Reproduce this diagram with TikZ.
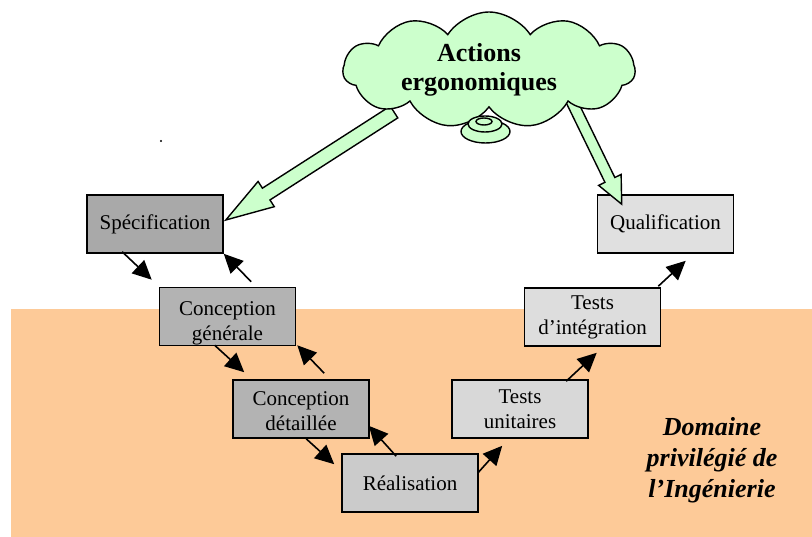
\documentclass[tikz,border=0pt]{standalone}
\usepackage{fontspec}
\setmainfont{Liberation Serif}
\usetikzlibrary{arrows.meta,shapes.symbols,calc}
\definecolor{orangezone}{HTML}{FDCA98}
\definecolor{cloudgreen}{HTML}{CCFFCC}
\definecolor{gspec}{HTML}{A9A9A9}
\definecolor{gcg}{HTML}{B3B3B3}
\definecolor{gcd}{HTML}{B3B3B3}
\definecolor{greal}{HTML}{CBCBCB}
\definecolor{gtu}{HTML}{D8D8D8}
\definecolor{gti}{HTML}{DDDDDD}
\definecolor{gqual}{HTML}{E0E0E0}
\newcommand\blockarrow[5]{%
  \coordinate (baT) at (#1);
  \coordinate (baP) at (#2);
  \coordinate (baH) at ($(baP)!#5!(baT)$);
  \draw[bigarrow] ($(baT)!#3!90:(baP)$) -- ($(baH)!#3!90:(baP)$) -- ($(baH)!#4!90:(baP)$) -- (baP)
    -- ($(baH)!#4!-90:(baP)$) -- ($(baH)!#3!-90:(baP)$) -- ($(baT)!#3!-90:(baP)$) -- cycle;
}
\begin{document}
\begin{tikzpicture}[x=1pt,y=-1pt,
  box/.style={draw=black, line width=1.6pt, minimum width=136pt, minimum height=58pt,
    inner sep=0pt, align=center, font=\fontsize{21}{25}\selectfont},
  boxtext/.style={align=center, inner sep=0pt, font=\fontsize{21}{25}\selectfont},
  link/.style={line width=1.6pt, -{Triangle[length=19pt,width=18pt]}},
  bigarrow/.style={draw=black, line width=1.4pt, fill=cloudgreen, line join=miter},
  bubble/.style={draw=black, line width=1.4pt, fill=cloudgreen}]
\useasboundingbox (0,0) rectangle (812,537);
% zone
\fill[orangezone] (11,309) rectangle (812,537);
% boxes
\node[box, fill=gspec] (spec) at (155,224) {Spécification};
\node[box, fill=gcg, label={[boxtext, yshift=-7pt]center:Conception\\générale}] (cg) at (227.5,316.5) {};
\node[box, fill=gcd, label={[boxtext, yshift=-2pt]center:Conception\\détaillée}] (cd) at (301,409) {};
\node[box, fill=greal] (real) at (410,483) {Réalisation};
\node[box, fill=gtu] (tu) at (520,409) {Tests\\unitaires};
\node[box, fill=gti] (ti) at (592.5,317) {Tests\\d’intégration};
\node[box, fill=gqual] (qual) at (665.5,224) {Qualification};
% small arrows
\draw[link] ($(spec.south west)+(36,-2)$) -- ($(cg.north west)+(-7,-7)$);
\draw[link] ($(cg.north west)+(92.5,-5)$) -- (spec.south east);
\draw[link] ($(cg.south west)+(56,-1)$) -- ($(cd.north west)+(12,-7)$);
\draw[link] ($(cd.north west)+(92,-6)$) -- ($(cg.south east)+(1,-1)$);
\draw[link] ($(cd.south west)+(74,0)$) -- ($(real.north west)+(-7,11)$);
\draw[link] ($(real.north west)+(55,3)$) -- ($(cd.south east)+(-1,-13)$);
\draw[link] ($(real.east)+(-1,-10)$) -- ($(tu.south west)+(51,7)$);
\draw[link] ($(tu.north west)+(115,2)$) -- ($(ti.south west)+(73,6)$);
\draw[link] ($(ti.north east)+(-3,-1)$) -- ($(qual.south west)+(89,7)$);
% big arrows
\blockarrow{394,112}{$(spec.east)+(2,-4)$}{7pt}{15pt}{48pt}
\blockarrow{570,98}{$(qual.north west)+(25,10)$}{5.5pt}{12.5pt}{27pt}
% cloud
\node[cloud, cloud puffs=11, cloud puff arc=115, aspect=2.5, draw=black, line width=1.4pt,
  fill=cloudgreen, minimum width=292pt, minimum height=116pt, inner sep=0pt] (cloud) at (489,70) {};
\node[align=center, inner sep=0pt, font=\bfseries\fontsize{26}{28.5}\selectfont] (act) at (479,70) {Actions\\ergonomiques};
\draw[bubble] (485.5,131.5) ellipse [x radius=24.5, y radius=11.5];
\draw[bubble] (485,124) ellipse [x radius=17, y radius=8];
\draw[bubble] (484,121.5) ellipse [x radius=8, y radius=3.5];
% domain label
\node[align=center, inner sep=0pt, font=\bfseries\itshape\fontsize{26}{31}\selectfont] (dom) at (712,460) {Domaine\\privilégié de\\l’Ingénierie};
% stray dots
\fill (161,141) circle (1.1);
\end{tikzpicture}
\end{document}
